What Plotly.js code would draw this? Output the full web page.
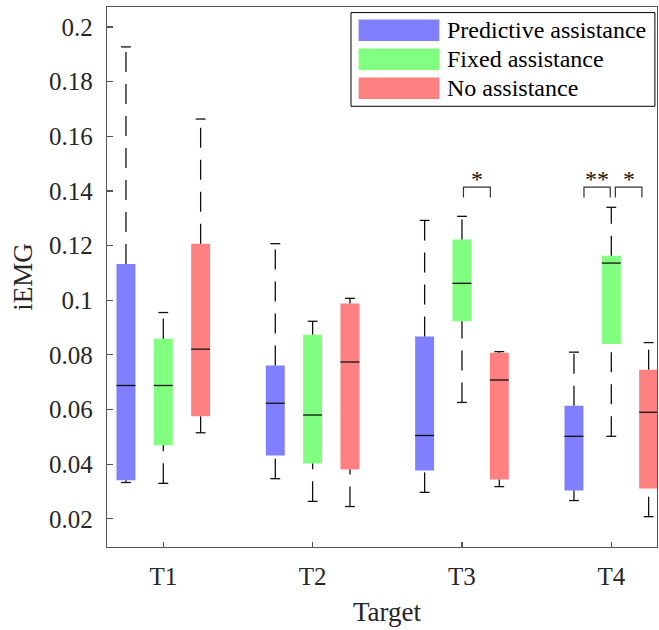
<!DOCTYPE html>
<html>
<head>
<meta charset="utf-8">
<script src="https://cdn.plot.ly/plotly-3.0.1.min.js"></script>
<style>
  html, body { margin: 0; padding: 0; background: #ffffff; }
  #chart { width: 659px; height: 630px; }
</style>
</head>
<body>
<div id="chart"></div>
<script>
// ---- data -------------------------------------------------------------
const targets = ['T1', 'T2', 'T3', 'T4'];
const seriesNames = ['Predictive assistance', 'Fixed assistance', 'No assistance'];

// box summaries (lower whisker, Q1, median, Q3, upper whisker) per target
const predLower  = [0.0333, 0.0347, 0.0297, 0.0267];
const predQ1     = [0.0341, 0.0432, 0.0377, 0.0304];
const predMedian = [0.0688, 0.0623, 0.0505, 0.0502];
const predQ3     = [0.1133, 0.0761, 0.0867, 0.0614];
const predUpper  = [0.1927, 0.1207, 0.1292, 0.0810];

const fixedLower  = [0.0330, 0.0264, 0.0626, 0.0502];
const fixedQ1     = [0.0469, 0.0403, 0.0923, 0.0840];
const fixedMedian = [0.0688, 0.0580, 0.1062, 0.1136];
const fixedQ3     = [0.0859, 0.0874, 0.1222, 0.1163];
const fixedUpper  = [0.0955, 0.0923, 0.1307, 0.1340];

const noneLower  = [0.0515, 0.0245, 0.0318, 0.0208];
const noneQ1     = [0.0575, 0.0381, 0.0344, 0.0311];
const noneMedian = [0.0821, 0.0774, 0.0708, 0.0590];
const noneQ3     = [0.1207, 0.0988, 0.0808, 0.0746];
const noneUpper  = [0.1663, 0.1007, 0.0812, 0.0845];

const yTickVals = [0.02, 0.04, 0.06, 0.08, 0.1, 0.12, 0.14, 0.16, 0.18, 0.2];
const yTickText = ['0.02', '0.04', '0.06', '0.08', '0.1', '0.12', '0.14', '0.16', '0.18', '0.2'];

// significance brackets: target index and star label
const sigTarget = [2, 3, 3];
const sigLabels = ['*', '**', '*'];

// ---- styling ----------------------------------------------------------
const colors = ['#8080FF', '#80FF80', '#FF8080'];
const groupOffsets = [-0.25, 0, 0.25];
const boxWidth = 0.127;
const capHalf = 0.033;
const ink = '#111111';
const axisColor = '#555555';
const textColor = '#262626';
const serif = 'Liberation Serif, Times New Roman, serif';

const W = 659, H = 630;
const M = { l: 106.7, r: 2.3, t: 6.7, b: 83.3 };
const plotW = W - M.l - M.r, plotH = H - M.t - M.b;
const px2x = p => (p - M.l) / plotW;
const px2y = p => 1 - (p - M.t) / plotH;

const stats = [
  { lo: predLower,  q1: predQ1,  med: predMedian,  q3: predQ3,  hi: predUpper },
  { lo: fixedLower, q1: fixedQ1, med: fixedMedian, q3: fixedQ3, hi: fixedUpper },
  { lo: noneLower,  q1: noneQ1,  med: noneMedian,  q3: noneQ3,  hi: noneUpper }
];

const traces = [];

// filled boxes (no outline)
stats.forEach((s, g) => {
  traces.push({
    type: 'box',
    name: seriesNames[g],
    x: targets.map((_, i) => i + 1 + groupOffsets[g]),
    q1: s.q1, median: s.med, q3: s.q3,
    lowerfence: s.lo, upperfence: s.hi,
    width: boxWidth,
    fillcolor: colors[g],
    line: { width: 0, color: colors[g] },
    whiskerwidth: 0,
    boxpoints: false,
    showlegend: false,
    hoverinfo: 'skip'
  });
});

// dashed whiskers, drawn upward from the lower end of each segment
stats.forEach((s, g) => {
  const wx = [], wy = [];
  targets.forEach((_, i) => {
    const cx = i + 1 + groupOffsets[g];
    wx.push(cx, cx, null, cx, cx, null);
    wy.push(s.lo[i], s.q1[i], null, s.q3[i], s.hi[i], null);
  });
  traces.push({
    type: 'scatter', mode: 'lines', x: wx, y: wy,
    line: { color: ink, width: 1.3, dash: '20px,12px' },
    connectgaps: false, showlegend: false, hoverinfo: 'skip'
  });
});

// whisker caps and median lines
stats.forEach((s, g) => {
  const lx = [], ly = [];
  targets.forEach((_, i) => {
    const cx = i + 1 + groupOffsets[g];
    lx.push(cx - capHalf, cx + capHalf, null, cx - capHalf, cx + capHalf, null);
    ly.push(s.lo[i], s.lo[i], null, s.hi[i], s.hi[i], null);
    lx.push(cx - boxWidth / 2, cx + boxWidth / 2, null);
    ly.push(s.med[i], s.med[i], null);
  });
  traces.push({
    type: 'scatter', mode: 'lines', x: lx, y: ly,
    line: { color: ink, width: 1.3 },
    connectgaps: false, showlegend: false, hoverinfo: 'skip'
  });
});

const shapes = [];
const annotations = [];

// significance brackets
const bracketSpans = [[0.01, 0.19], [-0.183, -0.007], [0.027, 0.205]];
const bracketTop = 0.1414, bracketLeg = 0.0038;
sigTarget.forEach((t, k) => {
  const x0 = t + 1 + bracketSpans[k][0], x1 = t + 1 + bracketSpans[k][1];
  shapes.push({
    type: 'path', xref: 'x', yref: 'y',
    path: `M ${x0} ${bracketTop - bracketLeg} L ${x0} ${bracketTop} L ${x1} ${bracketTop} L ${x1} ${bracketTop - bracketLeg}`,
    line: { color: '#333333', width: 1.2 }
  });
  annotations.push({
    xref: 'x', yref: 'y', x: (x0 + x1) / 2, y: bracketTop,
    text: sigLabels[k], showarrow: false, xanchor: 'center', yanchor: 'bottom',
    yshift: -7,
    font: { family: serif, size: 24, color: ink }
  });
});

// legend panel with wide colour swatches
shapes.push({
  type: 'rect', xref: 'paper', yref: 'paper',
  x0: px2x(350.7), x1: px2x(654.6), y0: px2y(106), y1: px2y(12.3),
  line: { color: '#000000', width: 1 }, fillcolor: '#ffffff', layer: 'above'
});
const rowTop = [19.3, 48.3, 77.3], swatchH = 21.4;
seriesNames.forEach((name, g) => {
  shapes.push({
    type: 'rect', xref: 'paper', yref: 'paper',
    x0: px2x(358.3), x1: px2x(439), y0: px2y(rowTop[g] + swatchH), y1: px2y(rowTop[g]),
    line: { width: 0 }, fillcolor: colors[g], layer: 'above'
  });
  annotations.push({
    xref: 'paper', yref: 'paper', x: px2x(445), y: px2y(rowTop[g] + swatchH / 2),
    text: name, showarrow: false, xanchor: 'left', yanchor: 'middle',
    font: { family: serif, size: 24, color: '#000000' }
  });
});

// axis title below the category labels
annotations.push({
  xref: 'paper', yref: 'paper', x: px2x(387), y: px2y(612),
  text: 'Target', showarrow: false, xanchor: 'center', yanchor: 'middle',
  font: { family: serif, size: 27, color: textColor }
});

const layout = {
  width: W, height: H,
  margin: M,
  paper_bgcolor: '#ffffff', plot_bgcolor: '#ffffff',
  showlegend: false,
  font: { family: serif, color: textColor },
  xaxis: {
    range: [0.623, 4.306],
    tickvals: targets.map((_, i) => i + 1),
    ticktext: targets,
    ticks: 'inside', ticklen: 5, tickwidth: 1.2, tickcolor: axisColor,
    showline: true, linecolor: axisColor, linewidth: 1.3, mirror: true,
    showgrid: false, zeroline: false,
    tickfont: { family: serif, size: 25, color: textColor },
    ticklabelstandoff: 7
  },
  yaxis: {
    range: [0.0097, 0.2073],
    tickvals: yTickVals,
    ticktext: yTickText,
    ticks: 'inside', ticklen: 6, tickwidth: 1.2, tickcolor: axisColor,
    showline: true, linecolor: axisColor, linewidth: 1.3, mirror: true,
    showgrid: false, zeroline: false,
    tickfont: { family: serif, size: 25, color: textColor },
    ticklabelstandoff: 8,
    title: { text: 'iEMG', font: { family: serif, size: 27, color: textColor }, standoff: 8 }
  },
  shapes: shapes,
  annotations: annotations
};

Plotly.newPlot('chart', traces, layout, { staticPlot: true, displayModeBar: false });
</script>
</body>
</html>
